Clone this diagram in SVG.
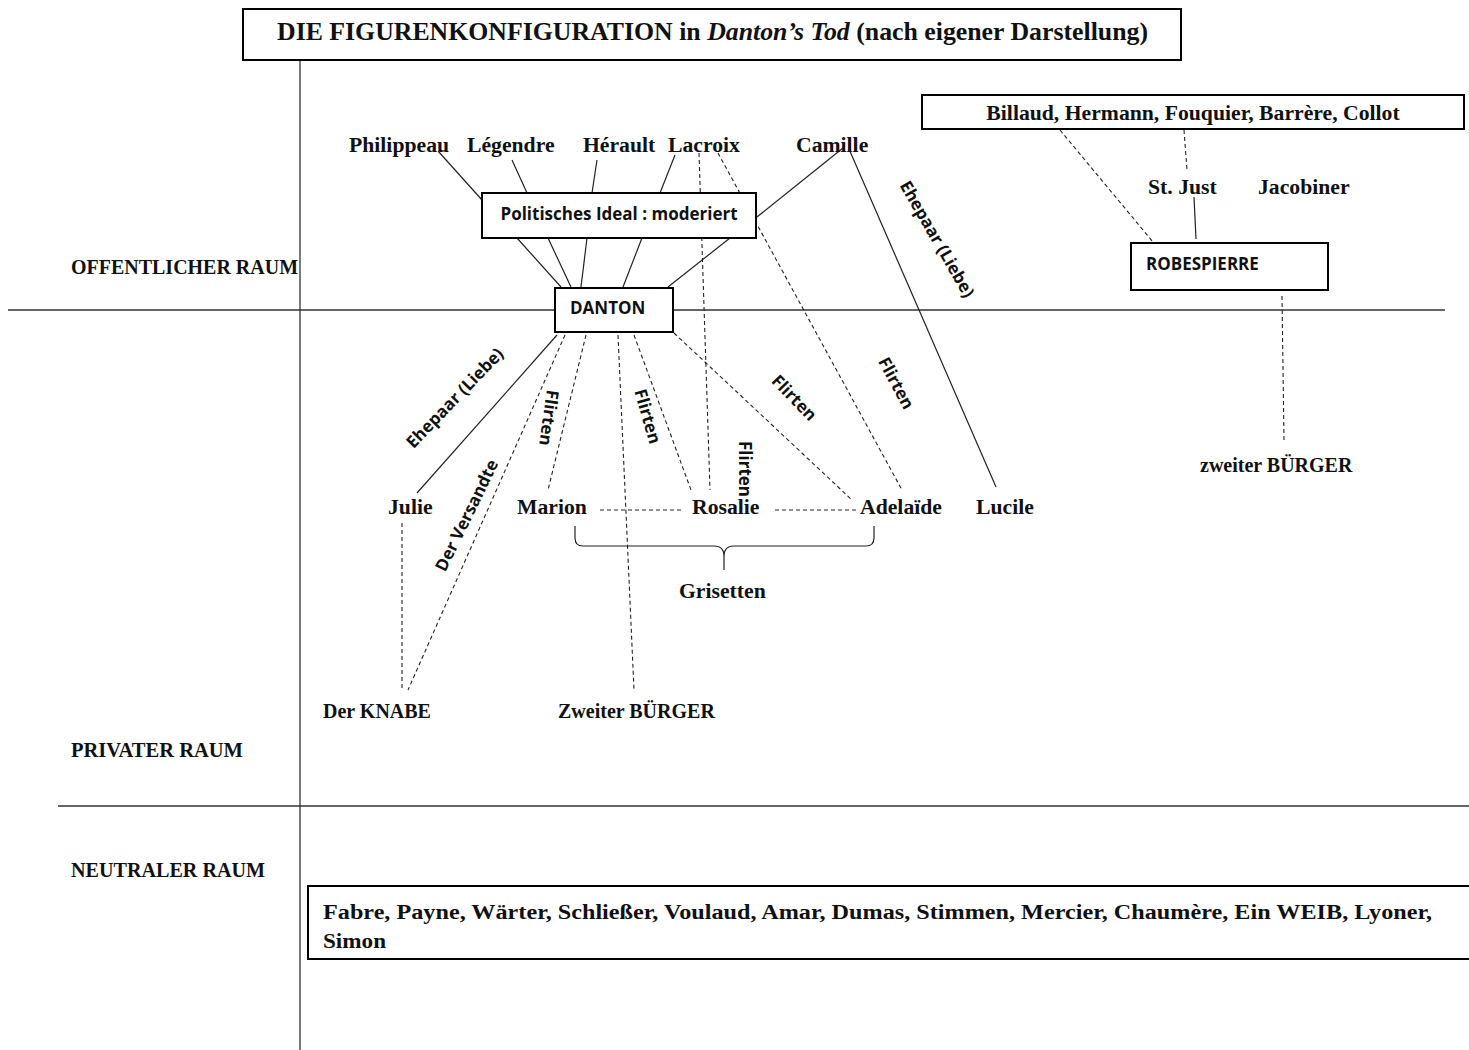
<svg xmlns="http://www.w3.org/2000/svg" width="1469" height="1050" viewBox="0 0 1469 1050">
<style>
.bg{fill:#fff}
.box{fill:#fff;stroke:#000;stroke-width:2}
.ax{stroke:#333;stroke-width:1.3;fill:none}
.sl{stroke:#222;stroke-width:1.2;fill:none}
.dl{stroke:#222;stroke-width:1.1;fill:none;stroke-dasharray:4 3}
.n{font-family:"Liberation Serif","Times New Roman",serif;font-weight:bold;font-size:21.7px;fill:#111}
.r{font-family:"Liberation Serif","Times New Roman",serif;font-weight:bold;font-size:20px;fill:#111}
.s{font-family:"Open Sans","Noto Sans",sans-serif;font-weight:bold;font-size:17px;fill:#111}
.t{font-family:"Liberation Serif","Times New Roman",serif;font-weight:bold;font-size:26px;fill:#111}
</style>
<rect class="bg" x="0" y="0" width="1469" height="1050"/>

<g id="axes">
<line class="ax" x1="300" y1="60" x2="300" y2="1050"/>
<line class="ax" x1="8" y1="310" x2="1445" y2="310"/>
<line class="ax" x1="58" y1="806" x2="1469" y2="806"/>
</g>

<g id="space-labels">
<text class="r" x="71" y="274" textLength="227" lengthAdjust="spacingAndGlyphs">OFFENTLICHER RAUM</text>
<text class="r" x="71" y="757" textLength="172" lengthAdjust="spacingAndGlyphs">PRIVATER RAUM</text>
<text class="r" x="71" y="877" textLength="194" lengthAdjust="spacingAndGlyphs">NEUTRALER RAUM</text>
</g>

<g id="connectors">
<line class="sl" x1="438" y1="151" x2="482" y2="200"/>
<line class="sl" x1="512" y1="160" x2="527" y2="193"/>
<line class="sl" x1="597" y1="160" x2="592" y2="193"/>
<line class="sl" x1="675" y1="155" x2="660" y2="193"/>
<line class="sl" x1="843" y1="148" x2="757" y2="217"/>
<line class="sl" x1="517" y1="238" x2="561" y2="287"/>
<line class="sl" x1="548" y1="238" x2="571" y2="287"/>
<line class="sl" x1="587" y1="238" x2="581" y2="287"/>
<line class="sl" x1="642" y1="238" x2="623" y2="287"/>
<line class="sl" x1="730" y1="238" x2="668" y2="287"/>
<line class="dl" x1="699" y1="153" x2="710" y2="490"/>
<line class="dl" x1="718" y1="153" x2="902" y2="490"/>
<line class="sl" x1="849" y1="149" x2="996" y2="487"/>
<line class="sl" x1="557" y1="335" x2="417" y2="493"/>
<line class="dl" x1="565" y1="335" x2="408" y2="690"/>
<line class="dl" x1="586" y1="335" x2="548" y2="490"/>
<line class="dl" x1="618" y1="335" x2="634" y2="690"/>
<line class="dl" x1="634" y1="335" x2="691" y2="490"/>
<line class="dl" x1="674" y1="333" x2="852" y2="500"/>
<line class="dl" x1="402" y1="523" x2="402" y2="690"/>
<line class="dl" x1="600" y1="510" x2="681" y2="510"/>
<line class="dl" x1="775" y1="510" x2="856" y2="510"/>
<path class="sl" d="M575,526 L575,538 Q575,546 583,546 L714,546 Q724,546 724,556 L724,570 M724,570 L724,556 Q724,546 734,546 L866,546 Q874,546 874,538 L874,526"/>
<line class="dl" x1="1060" y1="130" x2="1153" y2="242"/>
<line class="dl" x1="1184" y1="130" x2="1187" y2="170"/>
<line class="sl" x1="1194" y1="197" x2="1196" y2="239"/>
<line class="dl" x1="1282" y1="296" x2="1284" y2="440"/>
</g>

<g id="edge-labels">
<text class="s" transform="translate(459,402) rotate(-46)" text-anchor="middle">Ehepaar (Liebe)</text>
<text class="s" transform="translate(472,518) rotate(-64)" text-anchor="middle">Der Versandte</text>
<text class="s" transform="translate(543,417) rotate(98)" text-anchor="middle">Flirten</text>
<text class="s" transform="translate(642,418) rotate(74)" text-anchor="middle">Flirten</text>
<text class="s" transform="translate(739,469) rotate(90)" text-anchor="middle">Flirten</text>
<text class="s" transform="translate(790,402) rotate(46)" text-anchor="middle">Flirten</text>
<text class="s" transform="translate(891,386) rotate(62)" text-anchor="middle">Flirten</text>
<text class="s" transform="translate(932,242) rotate(60)" text-anchor="middle">Ehepaar (Liebe)</text>
</g>

<g id="title">
<rect class="box" x="243" y="9" width="938" height="51"/>
<text class="t" x="277" y="40" textLength="871" lengthAdjust="spacingAndGlyphs">DIE FIGURENKONFIGURATION in <tspan font-style="italic">Danton’s Tod</tspan> (nach eigener Darstellung)</text>
</g>

<g id="politisches-ideal">
<rect class="box" x="482" y="193" width="274" height="45"/>
<text class="s" x="619" y="220" text-anchor="middle" font-size="17.5">Politisches Ideal : moderiert</text>
</g>

<g id="danton">
<rect class="box" x="555" y="288" width="118" height="44"/>
<text class="s" x="570" y="314" font-size="17.5">DANTON</text>
</g>

<g id="philippeau"><text class="n" x="349" y="152">Philippeau</text></g>
<g id="legendre"><text class="n" x="467" y="152">Légendre</text></g>
<g id="herault"><text class="n" x="583" y="152">Hérault</text></g>
<g id="lacroix"><text class="n" x="668" y="152">Lacroix</text></g>
<g id="camille"><text class="n" x="796" y="152">Camille</text></g>

<g id="billaud">
<rect class="box" x="922" y="95" width="542" height="34"/>
<text class="n" x="1193" y="120" text-anchor="middle">Billaud, Hermann, Fouquier, Barrère, Collot</text>
</g>
<g id="stjust"><text class="n" x="1148" y="194">St. Just</text></g>
<g id="jacobiner"><text class="n" x="1258" y="194">Jacobiner</text></g>
<g id="robespierre">
<rect class="box" x="1131" y="243" width="197" height="47"/>
<text class="s" x="1146" y="270" font-size="17.5">ROBESPIERRE</text>
</g>
<g id="zweiter-buerger-r"><text class="r" x="1200" y="472">zweiter BÜRGER</text></g>

<g id="julie"><text class="n" x="388" y="514">Julie</text></g>
<g id="marion"><text class="n" x="517" y="514">Marion</text></g>
<g id="rosalie"><text class="n" x="692" y="514">Rosalie</text></g>
<g id="adelaide"><text class="n" x="860" y="514">Adelaïde</text></g>
<g id="lucile"><text class="n" x="976" y="514">Lucile</text></g>
<g id="grisetten"><text class="n" x="679" y="598">Grisetten</text></g>
<g id="knabe"><text class="r" x="323" y="718">Der KNABE</text></g>
<g id="zweiter-buerger"><text class="r" x="558" y="718">Zweiter BÜRGER</text></g>

<g id="neutral">
<rect class="box" x="308" y="886" width="1170" height="73"/>
<text class="n" x="323" y="919" font-size="26" textLength="1109" lengthAdjust="spacingAndGlyphs">Fabre, Payne, Wärter, Schließer, Voulaud, Amar, Dumas, Stimmen, Mercier, Chaumère, Ein WEIB, Lyoner,</text>
<text class="n" x="323" y="948" font-size="26" textLength="63" lengthAdjust="spacingAndGlyphs">Simon</text>
</g>
</svg>
